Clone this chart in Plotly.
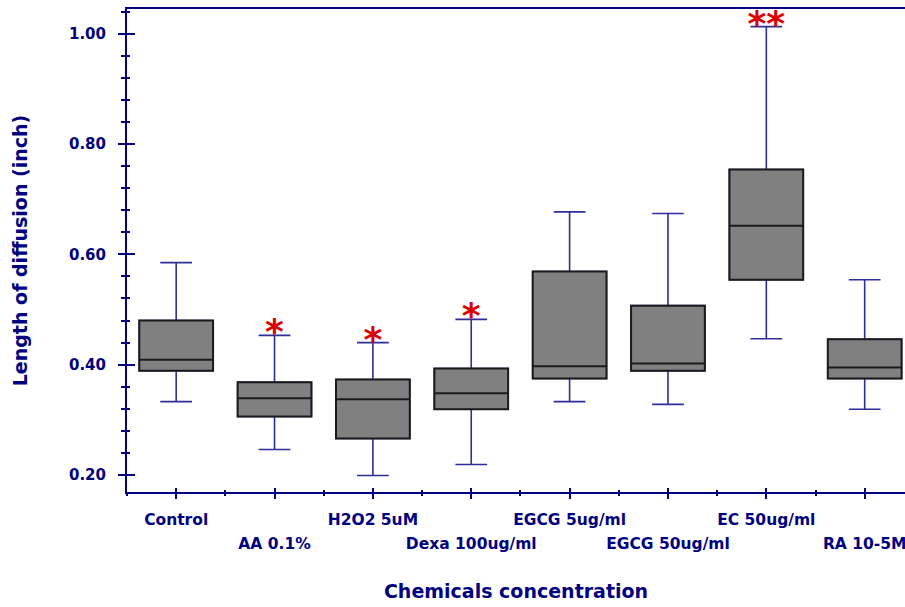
import plotly.graph_objects as go

categories = ["Control", "AA 0.1%", "H2O2 5uM", "Dexa 100ug/ml",
              "EGCG 5ug/ml", "EGCG 50ug/ml", "EC 50ug/ml", "RA 10-5M"]
lower = [0.333, 0.246, 0.199, 0.219, 0.333, 0.328, 0.447, 0.319]
q1 = [0.389, 0.306, 0.266, 0.319, 0.375, 0.389, 0.554, 0.375]
median = [0.409, 0.339, 0.337, 0.348, 0.397, 0.402, 0.652, 0.395]
q3 = [0.480, 0.368, 0.373, 0.393, 0.569, 0.507, 0.754, 0.446]
upper = [0.585, 0.453, 0.440, 0.482, 0.677, 0.674, 1.013, 0.554]
significance = ["", "*", "*", "*", "", "", "**", ""]

pos = list(range(len(categories)))
row1 = [c if i % 2 == 0 else "" for i, c in enumerate(categories)]
row2 = [c if i % 2 == 1 else "" for i, c in enumerate(categories)]

NAVY = "#000080"
WHISK = "#2e2e99"
FONT = "DejaVu Sans"

fig = go.Figure()
# full box with whiskers (blue)
fig.add_trace(go.Box(
    x=pos, q1=q1, median=median, q3=q3, lowerfence=lower, upperfence=upper,
    width=0.75, whiskerwidth=0.43, fillcolor="#808080",
    line=dict(color=WHISK, width=1.6), boxpoints=False, showlegend=False,
    hoverinfo="skip"))
# box body outline (black) on top
fig.add_trace(go.Box(
    x=pos, q1=q1, median=median, q3=q3, lowerfence=q1, upperfence=q3,
    width=0.75, whiskerwidth=0.0, fillcolor="#808080",
    line=dict(color="#1a1a1a", width=2), boxpoints=False, showlegend=False,
    hoverinfo="skip"))
# significance stars
fig.add_trace(go.Scatter(
    x=pos, y=upper, text=significance, mode="text", textposition="middle center",
    textfont=dict(family=FONT, size=36, color="#dd0000", weight="bold"),
    cliponaxis=False,
    xaxis="x2", yaxis="y2", showlegend=False, hoverinfo="skip"))

axis_font = dict(family=FONT, color=NAVY, weight="bold")
xrange = [-0.5, 7.41]
yrange = [0.169, 1.045]

fig.update_layout(
    width=905, height=607,
    margin=dict(l=127, r=0, t=9, b=115, autoexpand=False),
    paper_bgcolor="white", plot_bgcolor="white",
    boxmode="overlay",
    xaxis=dict(
        range=xrange, tickmode="array", tickvals=pos, ticktext=row1,
        ticks="outside", ticklen=5, tickwidth=2, tickcolor=NAVY,
        minor=dict(ticks="outside", ticklen=2, tickwidth=2, tickcolor=NAVY,
                   tick0=0, dtick=0.5),
        showline=True, linecolor=NAVY, linewidth=2, mirror=True,
        showgrid=False, zeroline=False, ticklabelstandoff=7,
        ticklabeloverflow="allow", automargin=False,
        tickfont=dict(size=15.5, **axis_font),
        title=dict(text="Chemicals concentration",
                   font=dict(size=19, **axis_font), standoff=57),
    ),
    xaxis2=dict(
        overlaying="x", anchor="y2", matches="x", range=xrange,
        tickmode="array", tickvals=pos, ticktext=row2,
        ticks="inside", ticklen=4, tickwidth=2, tickcolor=NAVY,
        minor=dict(ticks="inside", ticklen=2, tickwidth=2, tickcolor=NAVY,
                   tick0=0, dtick=0.5),
        ticklabelstandoff=40, ticklabeloverflow="allow", automargin=False,
        showline=False, showgrid=False, zeroline=False,
        tickfont=dict(size=15.5, **axis_font),
    ),
    yaxis=dict(
        range=yrange, tick0=0, dtick=0.2, tickformat=".2f",
        ticks="outside", ticklen=7, tickwidth=2, tickcolor=NAVY,
        minor=dict(ticks="outside", ticklen=4, tickwidth=2, tickcolor=NAVY,
                   tick0=0, dtick=0.04),
        showline=True, linecolor=NAVY, linewidth=2, mirror=False,
        showgrid=False, zeroline=False, ticklabelstandoff=9, automargin=False,
        tickfont=dict(size=15, **axis_font),
        title=dict(text="Length of diffusion (inch)",
                   font=dict(size=19, **axis_font), standoff=36),
    ),
    yaxis2=dict(
        overlaying="y", anchor="x2", matches="y", range=yrange, side="left",
        tick0=0, dtick=0.2, showticklabels=False,
        ticks="inside", ticklen=8, tickwidth=2, tickcolor=NAVY,
        minor=dict(ticks="inside", ticklen=3, tickwidth=2, tickcolor=NAVY,
                   tick0=0, dtick=0.04),
        showline=False, showgrid=False, zeroline=False, automargin=False,
    ),
)

# remove the default page margin so the 905x607 figure fills the window
fig.write_html(
    "out.html",
    config={"displayModeBar": False},
    post_script="document.body.style.margin='0';"
                "document.documentElement.style.overflow='hidden';",
)
